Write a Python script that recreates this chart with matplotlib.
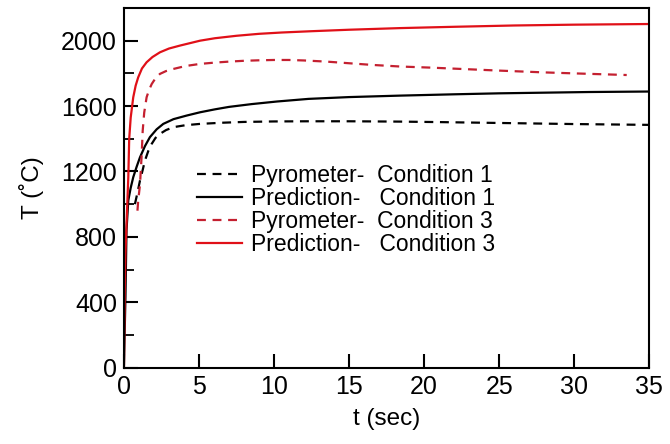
import matplotlib
matplotlib.use("Agg")
import matplotlib.pyplot as plt
from matplotlib.ticker import MultipleLocator

plt.rcParams['font.family'] = ['Liberation Sans', 'DejaVu Sans']

# Pyrometer - Condition 1 (black dashed)
t_pyro1 = [0.73, 0.9, 1.07, 1.25, 1.4, 1.62, 1.85, 2.1, 2.4, 2.8, 3.29, 4.1, 5.07, 6.5, 8.0, 10.0, 12.3, 15.0,
           18.4, 21.0, 24.0, 27.0, 30.0, 33.0, 35.0]
T_pyro1 = [1000, 1070, 1145, 1210, 1267, 1325, 1369, 1405, 1430, 1453, 1471, 1483, 1491, 1498, 1503, 1506, 1507, 1507,
           1505, 1502, 1498, 1494, 1490, 1487, 1485]

# Prediction - Condition 1 (black solid)
t_pred1 = [0.0, 0.1, 0.17, 0.29, 0.45, 0.62, 0.85, 1.07, 1.4, 1.73, 2.18, 2.62, 3.3, 4.18, 5.07, 6.06, 7.0, 8.5,
           10.2, 12.3, 15.0, 18.4, 22.0, 25.0, 28.0, 31.0, 35.0]
T_pred1 = [20, 430, 840, 1023, 1100, 1165, 1230, 1287, 1355, 1410, 1458, 1491, 1520, 1542, 1562, 1580, 1595, 1612,
           1628, 1644, 1655, 1664, 1672, 1678, 1682, 1686, 1689]

# Pyrometer - Condition 3 (red dashed)
t_pyro3 = [0.9, 0.95, 1.07, 1.18, 1.25, 1.35, 1.51, 1.68, 1.85, 2.1, 2.4, 2.8, 3.29, 4.1, 5.07, 6.06, 7.0, 8.0,
           9.0, 10.0, 11.0, 12.0, 13.5, 15.0, 16.5, 18.4, 20.5, 23.0, 25.0, 28.0, 30.0, 33.5]
T_pyro3 = [960, 1023, 1120, 1300, 1450, 1560, 1654, 1700, 1735, 1770, 1797, 1814, 1827, 1845, 1858, 1866, 1872, 1877,
           1880, 1882, 1882, 1879, 1872, 1862, 1852, 1842, 1835, 1825, 1817, 1806, 1800, 1790]

# Prediction - Condition 3 (red solid)
t_pred3 = [0.0, 0.05, 0.1, 0.18, 0.29, 0.35, 0.45, 0.62, 0.78, 0.95, 1.2, 1.51, 1.9, 2.4, 3.0, 3.73, 5.07, 6.06,
           7.5, 9.0, 10.5, 12.5, 15.0, 18.4, 22.0, 26.0, 30.0, 35.0]
T_pred3 = [0, 450, 700, 900, 1165, 1400, 1530, 1654, 1725, 1776, 1830, 1868, 1900, 1929, 1952, 1970, 2000, 2015,
           2030, 2042, 2050, 2058, 2067, 2077, 2085, 2093, 2098, 2102]

labels = ['Pyrometer-  Condition 1', 'Prediction-   Condition 1',
          'Pyrometer-  Condition 3', 'Prediction-   Condition 3']

fig = plt.figure(figsize=(6.7, 4.44), dpi=100)
ax = fig.add_axes([0.185, 0.172, 0.784, 0.81])

red_solid = '#e01018'
red_dash = '#c42030'

ax.plot(t_pyro1, T_pyro1, color='black', lw=1.6, ls=(0, (4, 3)), label=labels[0])
ax.plot(t_pred1, T_pred1, color='black', lw=1.6, ls='-', label=labels[1])
ax.plot(t_pyro3, T_pyro3, color=red_dash, lw=1.6, ls=(0, (4, 3)), label=labels[2])
ax.plot(t_pred3, T_pred3, color=red_solid, lw=1.6, ls='-', label=labels[3])

ax.set_xlim(0, 35)
ax.set_ylim(0, 2200)
ax.xaxis.set_major_locator(MultipleLocator(5))
ax.yaxis.set_major_locator(MultipleLocator(400))
ax.yaxis.set_minor_locator(MultipleLocator(200))

ax.tick_params(axis='both', which='major', direction='in', length=10, width=1.5,
               labelsize=18, pad=5)
ax.tick_params(axis='y', which='minor', direction='in', length=7, width=1.3)
ax.tick_params(top=False, right=False, which='both')
for s in ax.spines.values():
    s.set_linewidth(1.5)

ax.set_xlabel('t (sec)', fontsize=17.5, labelpad=7)
ax.set_ylabel('T (˚C)', fontsize=17.5, labelpad=12)

leg = ax.legend(loc='upper left', bbox_to_anchor=(0.122, 0.592), frameon=False,
                fontsize=16.5, handlelength=1.95, handletextpad=0.4,
                labelspacing=0.0, borderaxespad=0)

fig.savefig('out.png', dpi=100)
